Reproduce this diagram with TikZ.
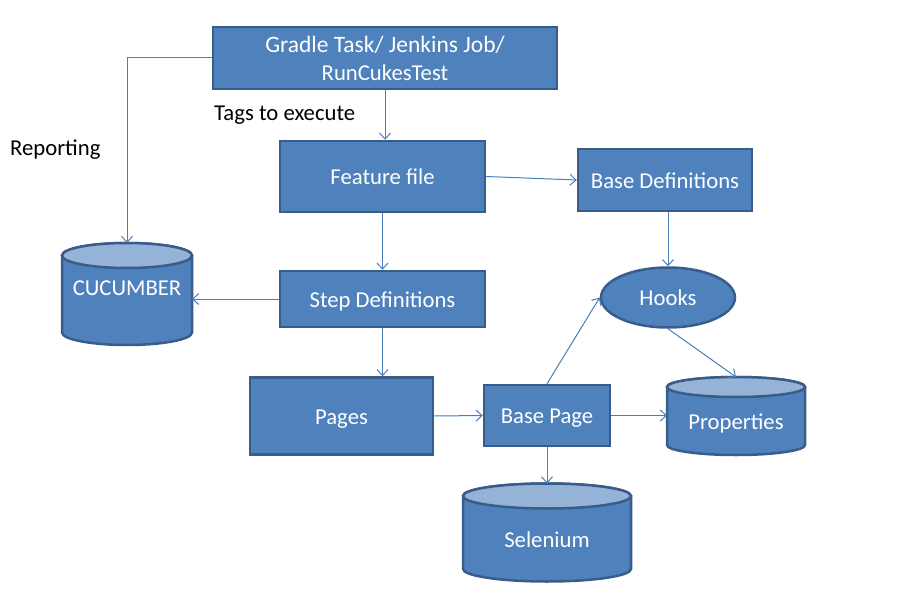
\documentclass[tikz,border=0pt]{standalone}
\usepackage{fontspec}
\setmainfont{Carlito}
\usetikzlibrary{arrows.meta,shapes.geometric}
\definecolor{boxfill}{HTML}{4F81BD}
\definecolor{boxline}{HTML}{385D8A}
\definecolor{cyltop}{HTML}{95B3D7}
\definecolor{connc}{HTML}{4A7EBB}
\newcommand{\drawcyl}[3]{% name, half width (pt), ry (pt)
  \draw[cylbody] ([yshift=-#3]#1.north west) -- ([yshift=#3]#1.south west)
    arc[start angle=180,end angle=360,x radius=#2,y radius=#3]
    -- ([yshift=-#3]#1.north east)
    arc[start angle=0,end angle=180,x radius=#2,y radius=#3] -- cycle;
  \draw[cyltopst] ([yshift=-#3]#1.north) ellipse[x radius=#2,y radius=#3];
}
\begin{document}
\begin{tikzpicture}[x=1pt,y=-1pt,
  txt/.style={font=\fontsize{22.7}{28}\selectfont},
  oneline/.style={text height=16pt,text depth=0pt},
  box/.style={rectangle,fill=boxfill,draw=boxline,line width=2.5pt,text=white,txt,align=center,inner sep=0pt},
  ellbox/.style={ellipse,fill=boxfill,draw=boxline,line width=2.5pt,text=white,txt,oneline,inner sep=0pt},
  cylarea/.style={rectangle,inner sep=0pt,outer sep=0pt},
  cylbody/.style={fill=boxfill,draw=boxline,line width=2.5pt},
  cyltopst/.style={fill=cyltop,draw=boxline,line width=2.5pt},
  cyllbl/.style={text=white,txt,oneline,inner sep=0pt},
  plainlbl/.style={text=black,txt,oneline,anchor=west,inner sep=0pt},
  conn/.style={draw=connc,line width=1pt,-{Straight Barb[length=6pt,width=11pt]}}]
\useasboundingbox (0,0) rectangle (897,615);

% boxes
\node[box,minimum width=344pt,minimum height=62pt] (gradle) at (385,58) {\fontsize{23.5}{28}\selectfont Gradle Task/ Jenkins Job/\\RunCukesTest};
\node[box,oneline,minimum width=205pt,minimum height=71pt] (feature) at (382.5,176.5) {Feature file};
\node[box,oneline,minimum width=174pt,minimum height=62pt] (basedef) at (665,180) {Base Definitions};
\node[box,oneline,minimum width=205pt,minimum height=56pt] (stepdef) at (382.5,299) {Step Definitions};
\node[box,oneline,minimum width=183pt,minimum height=77pt] (pages) at (341.5,416) {Pages};
\node[box,oneline,minimum width=126pt,minimum height=61pt] (basepage) at (547,415.5) {Base Page};
\node[ellbox,minimum width=134pt,minimum height=60pt] (hooks) at (668,297.5) {Hooks};

% cylinders
\node[cylarea,minimum width=130pt,minimum height=102pt] (cuc) at (127,294) {};
\drawcyl{cuc}{65pt}{12.5pt}
\node[cyllbl] (cuclbl) at (127,287) {CUCUMBER};
\node[cylarea,minimum width=138pt,minimum height=78pt] (props) at (736,416) {};
\drawcyl{props}{69pt}{10pt}
\node[cyllbl] (propslbl) at (736,421) {Properties};
\node[cylarea,minimum width=168pt,minimum height=98pt] (sel) at (547,532.5) {};
\drawcyl{sel}{84pt}{12.5pt}
\node[cyllbl] (sellbl) at (547,539) {Selenium};

% free labels
\node[plainlbl] (tags) at (214,113) {Tags to execute};
\node[plainlbl] (report) at (10,148) {Reporting};

% connectors
\draw[conn] (gradle.west) -| (cuc.north);
\draw[conn] (gradle.south) -- (gradle.south |- feature.north);
\draw[conn] (feature.east) -- (basedef.west);
\draw[conn] (feature.south) -- (stepdef.north);
\draw[conn] (stepdef.west) -- (stepdef.west -| cuc.east);
\draw[conn] (basedef.south -| hooks.north) -- (hooks.north);
\draw[conn] (stepdef.south) -- (stepdef.south |- pages.north);
\draw[conn] (pages.east) -- (basepage.west);
\draw[conn] (basepage.north) -- (hooks.west);
\draw[conn] (hooks.south) -- (props.north);
\draw[conn] (basepage.east) -- (basepage.east -| props.west);
\draw[conn] (basepage.south) -- (sel.north);
\end{tikzpicture}
\end{document}
